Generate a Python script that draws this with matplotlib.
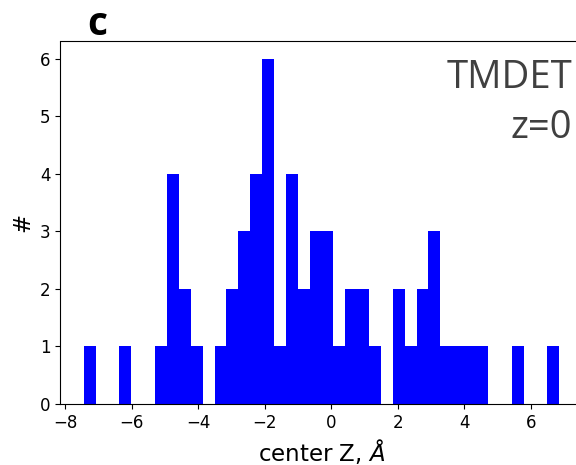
import numpy as np
import matplotlib
matplotlib.use("Agg")
from matplotlib import pyplot as plt

# histogram: 40 equal bins between z_min and z_max
z_min = -7.44
z_max = 6.86
counts = [1, 0, 0, 1, 0, 0, 1, 4, 2, 1,
          0, 1, 2, 3, 4, 6, 1, 4, 2, 3,
          3, 1, 2, 2, 1, 0, 2, 1, 2, 3,
          1, 1, 1, 1, 0, 0, 1, 0, 0, 1]

edges = np.linspace(z_min, z_max, len(counts) + 1)
centers = 0.5 * (edges[:-1] + edges[1:])

fig = plt.figure(figsize=(5.76, 4.65), dpi=100)
ax = fig.add_axes([60/576, 61/465, 523/576, 362.5/465])

ax.hist(centers, bins=edges, weights=counts, color="blue")

ax.tick_params(labelsize=12)
ax.set_xlabel(r"center Z, $\AA$", fontsize=16.5)
ax.set_ylabel("#", fontsize=16.5)

ax.text(572/576, 1 - 88/465, "TMDET", transform=fig.transFigure,
        ha="right", va="baseline", fontsize=27.5, family="Open Sans", color="#404040")
ax.text(572/576, 1 - 138/465, "z=0", transform=fig.transFigure,
        ha="right", va="baseline", fontsize=27.5, family="Open Sans", color="#404040")
fig.text(97/576, 1 - 35/465, "c", ha="center", va="baseline",
         fontsize=28, family="Open Sans", fontweight="bold")

fig.savefig("out.png", dpi=100)
